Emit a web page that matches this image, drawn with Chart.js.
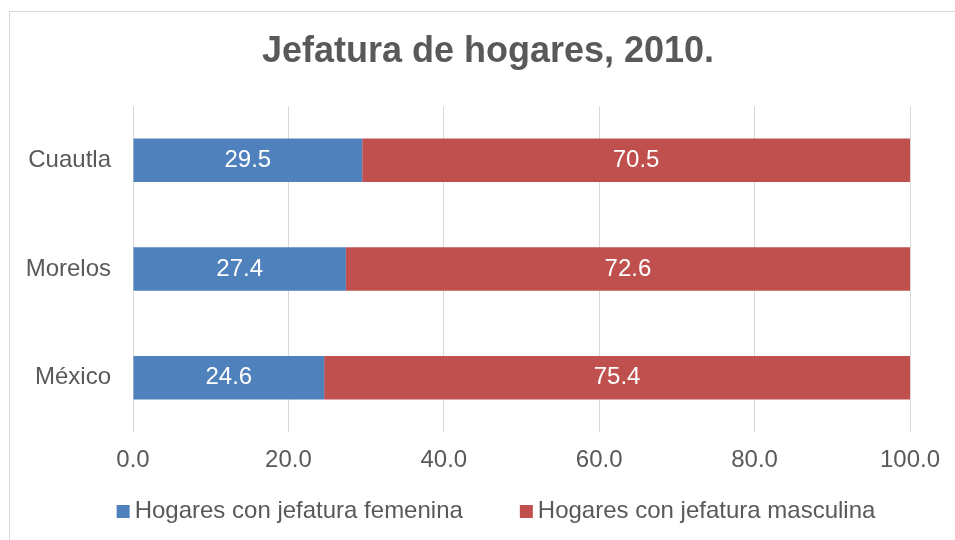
<!DOCTYPE html>
<html>
<head>
<meta charset="utf-8">
<script src="https://cdn.jsdelivr.net/npm/chart.js@4/dist/chart.umd.min.js"></script>
<style>
    html, body { margin: 0; padding: 0; background: #ffffff; overflow: hidden; }
    #frame {
        position: absolute; left: 9px; top: 11px;
        width: 1000px; height: 600px;
        border: 1px solid #d9d9d9;
    }
    #wrap { position: absolute; left: 0; top: 0; width: 955px; height: 540px; }
</style>
</head>
<body>
<div id="frame"></div>
<div id="wrap"><canvas id="hogaresChart"></canvas></div>
<script>
// datos del grafico
const lugares = ['Cuautla', 'Morelos', 'México'];
const jefaturaFemenina = [29.5, 27.4, 24.6];
const jefaturaMasculina = [70.5, 72.6, 75.4];
const nombresSeries = ['Hogares con jefatura femenina', 'Hogares con jefatura masculina'];
const titulo = 'Jefatura de hogares, 2010.';

const gris = '#595959';
const fuente = "'Liberation Sans', Arial, sans-serif";

// etiquetas blancas al centro de cada barra
const etiquetasBarras = {
    id: 'etiquetasBarras',
    afterDatasetsDraw: function (chart) {
        let ctx = chart.ctx;
        ctx.save();
        ctx.font = "24px " + fuente;
        ctx.fillStyle = '#ffffff';
        ctx.textAlign = 'center';
        ctx.textBaseline = 'middle';
        chart.data.datasets.forEach(function (ds, i) {
            chart.getDatasetMeta(i).data.forEach(function (bar, j) {
                let p = bar.getCenterPoint();
                ctx.fillText(ds.data[j].toFixed(1), p.x, p.y);
            });
        });
        ctx.restore();
    }
};

// titulo y leyenda dibujados a mano (como en Excel)
const tituloYLeyenda = {
    id: 'tituloYLeyenda',
    afterDraw: function (chart) {
        let ctx = chart.ctx;
        ctx.save();

        ctx.font = "bold 36px " + fuente;
        ctx.fillStyle = gris;
        ctx.textAlign = 'center';
        ctx.textBaseline = 'middle';
        ctx.fillText(titulo, 488, 52);

        ctx.font = "24px " + fuente;
        ctx.textAlign = 'left';
        let caja = 13, sep = 5, hueco = 57;
        let anchos = chart.data.datasets.map(function (ds) {
            return caja + sep + ctx.measureText(ds.label).width;
        });
        let total = anchos.reduce(function (a, b) { return a + b; }, 0) + hueco * (anchos.length - 1);
        let x = 496 - total / 2;
        let y = 511.5;
        chart.data.datasets.forEach(function (ds, i) {
            ctx.fillStyle = ds.backgroundColor;
            ctx.fillRect(x, y - caja / 2, caja, caja);
            ctx.fillStyle = gris;
            ctx.fillText(ds.label, x + caja + sep, y);
            x += anchos[i] + hueco;
        });
        ctx.restore();
    }
};

const hogaresChart = new Chart(document.getElementById('hogaresChart'), {
    type: 'bar',
    data: {
        labels: lugares,
        datasets: [
            {
                label: nombresSeries[0],
                data: jefaturaFemenina,
                backgroundColor: '#4f81bd',
                borderWidth: 0,
                categoryPercentage: 1,
                barPercentage: 0.4
            },
            {
                label: nombresSeries[1],
                data: jefaturaMasculina,
                backgroundColor: '#c0504d',
                borderWidth: 0,
                categoryPercentage: 1,
                barPercentage: 0.4
            }
        ]
    },
    options: {
        indexAxis: 'y',
        responsive: true,
        maintainAspectRatio: false,
        animation: false,
        layout: {
            padding: { left: 0, right: 45, top: 106, bottom: 51 }
        },
        plugins: {
            title: { display: false },
            legend: { display: false },
            tooltip: { enabled: false }
        },
        scales: {
            x: {
                stacked: true,
                min: 0,
                max: 100,
                grid: { color: '#d9d9d9', lineWidth: 1, drawTicks: false },
                border: { display: false },
                ticks: {
                    stepSize: 20,
                    color: gris,
                    padding: 14,
                    maxRotation: 0,
                    font: { family: fuente, size: 24 },
                    callback: function (v) { return Number(v).toFixed(1); }
                }
            },
            y: {
                stacked: true,
                afterFit: function (scale) { scale.width = 133; },
                grid: { display: false, drawTicks: false },
                border: { display: false },
                ticks: {
                    color: gris,
                    padding: 22,
                    font: { family: fuente, size: 24 }
                }
            }
        }
    },
    plugins: [etiquetasBarras, tituloYLeyenda]
});
</script>
</body>
</html>
